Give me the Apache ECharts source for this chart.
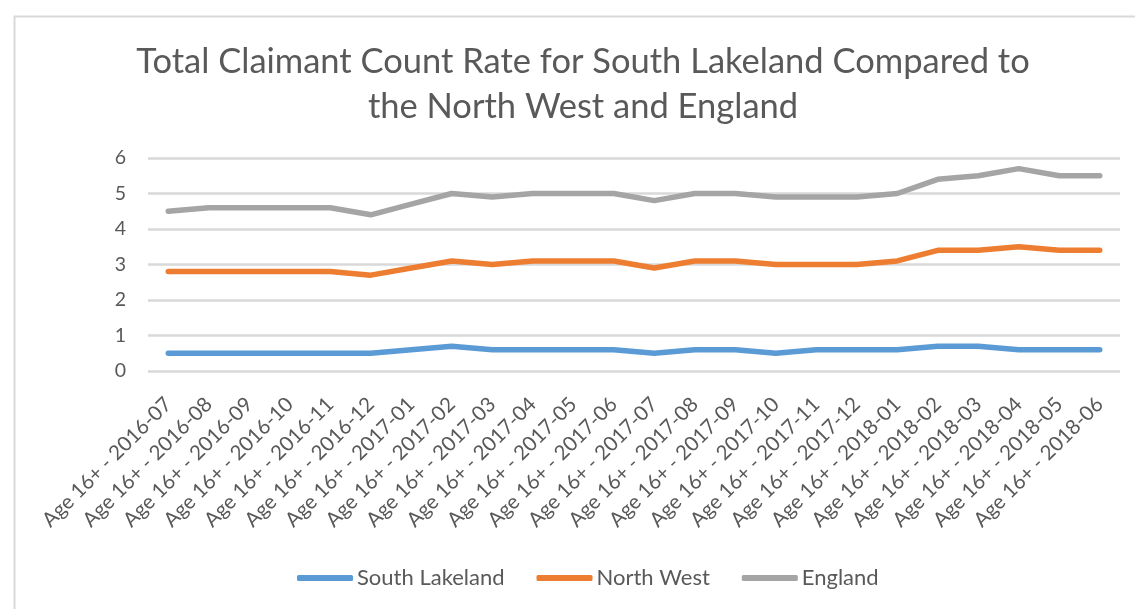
<!DOCTYPE html>
<html>
<head>
<meta charset="utf-8">
<script src="https://cdn.jsdelivr.net/npm/echarts@6/dist/echarts.min.js"></script>
<style>
  html, body { margin: 0; padding: 0; background: #ffffff; }
  #chart { width: 1135px; height: 609px; }
</style>
</head>
<body>
<div id="chart"></div>
<script>
// Monthly claimant count rate (%), July 2016 to June 2018
const months = [
  '2016-07', '2016-08', '2016-09', '2016-10', '2016-11', '2016-12',
  '2017-01', '2017-02', '2017-03', '2017-04', '2017-05', '2017-06',
  '2017-07', '2017-08', '2017-09', '2017-10', '2017-11', '2017-12',
  '2018-01', '2018-02', '2018-03', '2018-04', '2018-05', '2018-06'
];
const categories = months.map(m => 'Age 16+ - ' + m);

const southLakeland = [0.5, 0.5, 0.5, 0.5, 0.5, 0.5, 0.6, 0.7, 0.6, 0.6, 0.6, 0.6,
                       0.5, 0.6, 0.6, 0.5, 0.6, 0.6, 0.6, 0.7, 0.7, 0.6, 0.6, 0.6];
const northWest = [2.8, 2.8, 2.8, 2.8, 2.8, 2.7, 2.9, 3.1, 3.0, 3.1, 3.1, 3.1,
                   2.9, 3.1, 3.1, 3.0, 3.0, 3.0, 3.1, 3.4, 3.4, 3.5, 3.4, 3.4];
const england = [4.5, 4.6, 4.6, 4.6, 4.6, 4.4, 4.7, 5.0, 4.9, 5.0, 5.0, 5.0,
                 4.8, 5.0, 5.0, 4.9, 4.9, 4.9, 5.0, 5.4, 5.5, 5.7, 5.5, 5.5];

const yTicks = [0, 1, 2, 3, 4, 5, 6];

const FONT = 'Lato, "Open Sans", sans-serif';
const TEXT = '#595959';

const chart = echarts.init(document.getElementById('chart'), null, { renderer: 'canvas' });

function lineSeries(name, data, color) {
  return {
    name: name,
    type: 'line',
    data: data,
    symbol: 'none',
    smooth: false,
    lineStyle: { color: color, width: 5.5, cap: 'round', join: 'round' },
    itemStyle: { color: color },
    emphasis: { disabled: true }
  };
}

chart.setOption({
  animation: false,
  backgroundColor: '#ffffff',
  graphic: [{
    type: 'rect',
    left: 12, top: 14,
    shape: { width: 1300, height: 800 },
    style: { fill: 'none', stroke: '#d9d9d9', lineWidth: 2 },
    silent: true
  }],
  title: {
    text: 'Total Claimant Count Rate for South Lakeland Compared to\nthe North West and England',
    left: 578, top: 34,
    textAlign: 'center',
    textStyle: {
      fontFamily: FONT, fontSize: 34.5, fontWeight: 'normal',
      color: TEXT, lineHeight: 45
    }
  },
  legend: {
    bottom: 15,
    left: 292,
    itemWidth: 56,
    itemHeight: 6,
    itemGap: 32,
    icon: 'roundRect',
    textStyle: { fontFamily: FONT, fontSize: 22, color: TEXT, padding: [0, 0, 0, -1] },
    data: ['South Lakeland', 'North West', 'England']
  },
  grid: { left: 148, right: 15, top: 158, bottom: 238, containLabel: false },
  xAxis: {
    type: 'category',
    data: categories,
    boundaryGap: true,
    axisLine: { show: false },
    axisTick: { show: false },
    axisLabel: {
      rotate: 45, interval: 0, margin: 30,
      fontFamily: FONT, fontSize: 20.5, color: TEXT
    },
    splitLine: { show: false }
  },
  yAxis: {
    type: 'value',
    min: yTicks[0], max: yTicks[yTicks.length - 1], interval: 1,
    axisLine: { show: false },
    axisTick: { show: false },
    axisLabel: { fontFamily: FONT, fontSize: 19.5, color: TEXT, margin: 22 },
    splitLine: { lineStyle: { color: '#d9d9d9', width: 2.5 } }
  },
  series: [
    lineSeries('South Lakeland', southLakeland, '#5b9bd5'),
    lineSeries('North West', northWest, '#ed7d31'),
    lineSeries('England', england, '#a5a5a5')
  ]
});
</script>
</body>
</html>
